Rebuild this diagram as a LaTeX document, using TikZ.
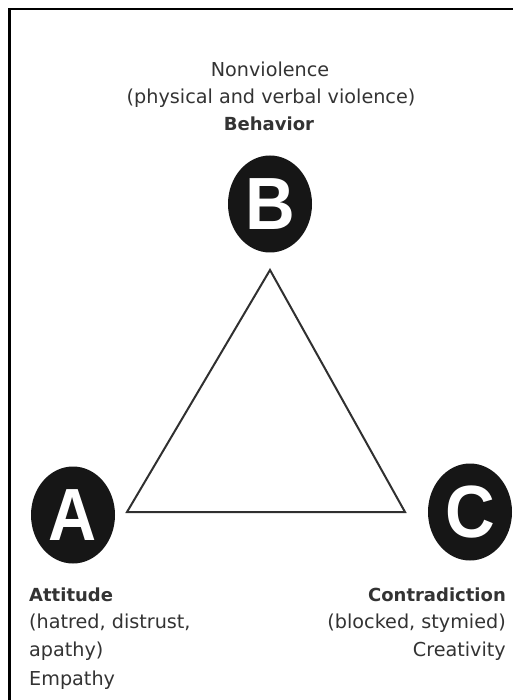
\documentclass[tikz,border=0pt]{standalone}
\usepackage{fontspec}
\setmainfont{DejaVu Sans}
\newfontfamily\letterfont{Liberation Sans}
\usetikzlibrary{shapes.geometric}
\definecolor{txt}{HTML}{333333}
\definecolor{discfill}{HTML}{161616}
\definecolor{edge}{HTML}{303030}
\begin{document}
\begin{tikzpicture}[x=1pt,y=-1pt,
  lbl/.style={inner sep=0pt, text=txt, font=\fontsize{19.2}{22}\selectfont},
  lblb/.style={inner sep=0pt, text=txt, font=\fontsize{18}{22}\selectfont\bfseries},
  disc/.style={ellipse, fill=discfill, minimum width=84pt, minimum height=97pt, inner sep=0pt,
    text=white, font=\letterfont\fontsize{74}{74}\selectfont\bfseries},
  tri/.style={draw=edge, line width=2pt, line join=miter},
  frame/.style={draw=black, line width=2.3pt}
]
\useasboundingbox (0,0) rectangle (513,700);
\fill[white] (0,0) rectangle (513,700);
\draw[frame] (9.5,700) -- (9.5,9.3) -- (513,9.3);

% discs
\node[disc] (B) at (270,204) {\scalebox{0.93}[1]{B}};
\node[disc] (A) at (73,515) {\scalebox{0.9}[1]{A}};
\node[disc] (C) at (470,512) {\scalebox{0.93}[1]{C}};

% triangle
\coordinate (tB) at (270,270);
\coordinate (tA) at (127,512);
\coordinate (tC) at (405,512);
\draw[tri] (tB) -- (tA) -- (tC) -- cycle;

% top labels
\node[lbl, anchor=base] (b1) at (270,77) {Nonviolence};
\node[lbl, anchor=base] (b2) at (271,104) {(physical and verbal violence)};
\node[lblb, anchor=base] (b3) at (269,131) {Behavior};

% left labels
\node[lblb, anchor=base west] (a1) at (29,601) {Attitude};
\node[lbl, anchor=base west] (a2) at (29,628) {(hatred, distrust,};
\node[lbl, anchor=base west] (a3) at (29,656) {apathy)};
\node[lbl, anchor=base west] (a4) at (29,685) {Empathy};

% right labels
\node[lblb, anchor=base east] (c1) at (506,601) {Contradiction};
\node[lbl, anchor=base east] (c2) at (506,628) {(blocked, stymied)};
\node[lbl, anchor=base east] (c3) at (506,656) {Creativity};
\end{tikzpicture}
\end{document}
